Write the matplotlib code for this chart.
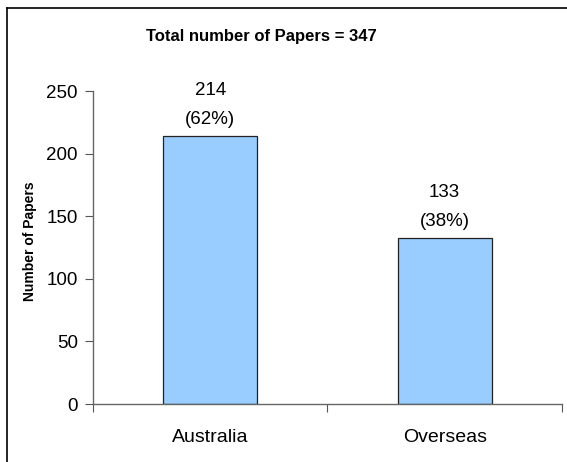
import matplotlib
matplotlib.use("Agg")
import matplotlib.pyplot as plt
from matplotlib.lines import Line2D

plt.rcParams['font.family'] = ['Liberation Sans', 'DejaVu Sans']

categories = ['Australia', 'Overseas']
papers = [214, 133]
percents = ['62%', '38%']
total = 347
yticks = [0, 50, 100, 150, 200, 250]

fig = plt.figure(figsize=(5.67, 4.62), dpi=100)
ax = fig.add_axes([0.164, 0.1255, 0.827, 0.6775])

x = [0, 1]
ax.bar(x, papers, width=0.4, color='#99CCFF', edgecolor='#222222', linewidth=0.9)

# value and share labels above each bar
for xi, v, p in zip(x, papers, percents):
    ax.annotate(f'({p})', (xi, v), xytext=(0, 8), textcoords='offset pixels',
                ha='center', va='bottom', fontsize=13.5)
    ax.annotate(str(v), (xi, v), xytext=(0, 37), textcoords='offset pixels',
                ha='center', va='bottom', fontsize=13.5)

ax.set_xlim(-0.5, 1.5)
ax.set_ylim(0, 250)
ax.set_yticks(yticks)
ax.set_yticklabels([str(t) for t in yticks], fontsize=13.5)
ax.set_xticks([-0.5, 0.5, 1.5])
ax.set_xticklabels([])
ax.set_xticks(x, minor=True)
ax.set_xticklabels(categories, minor=True, fontsize=14)
ax.tick_params(axis='x', which='minor', length=0, pad=18)
ax.tick_params(axis='x', which='major', length=6, color='#555555', direction='out')
ax.tick_params(axis='y', length=6, color='#555555', direction='out', pad=5)

for s in ['top', 'right']:
    ax.spines[s].set_visible(False)
for s in ['left', 'bottom']:
    ax.spines[s].set_color('#666666')
    ax.spines[s].set_linewidth(1.0)

ax.set_ylabel('Number of Papers', fontsize=10, fontweight='bold', labelpad=4)
ax.yaxis.set_label_coords(-0.119, 0.52)

fig.text(261/567, 1 - 37/462, f'Total number of Papers = {total}', ha='center', va='center',
         fontsize=12, fontweight='bold')

# outer chart frame (left and top edges)
fig.add_artist(Line2D([7/567, 7/567], [0, 1 - 8/462], color='black', linewidth=1.2, transform=fig.transFigure))
fig.add_artist(Line2D([7/567, 1], [1 - 8/462, 1 - 8/462], color='black', linewidth=1.2, transform=fig.transFigure))

fig.savefig('out.png', dpi=100)
